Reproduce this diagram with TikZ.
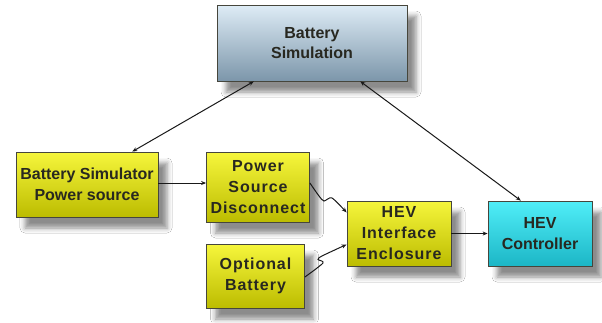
\documentclass[tikz,border=0pt]{standalone}
\usepackage{fontspec}
\setmainfont{Liberation Sans}
\newfontfamily\spacedfont[LetterSpace=6]{Liberation Sans}
\usetikzlibrary{arrows.meta,calc,shadows.blur}
\definecolor{ytop}{RGB}{246,246,60}
\definecolor{ybot}{RGB}{188,188,0}
\definecolor{btop}{RGB}{222,236,246}
\definecolor{bbot}{RGB}{124,150,170}
\definecolor{ctop}{RGB}{80,238,248}
\definecolor{cbot}{RGB}{28,182,198}
\definecolor{edge}{RGB}{70,70,60}
\definecolor{txt}{RGB}{40,40,32}
\begin{document}
\begin{tikzpicture}[x=1pt,y=-1pt,
  box/.style={draw=edge,line width=0.8pt,align=center,inner sep=0pt,
    text=txt,font=\fontsize{16}{20.5}\selectfont\bfseries,
    blur shadow={shadow xshift=9pt,shadow yshift=-11pt,shadow blur radius=5pt,shadow opacity=45}},
  ybox/.style={box,top color=ytop,bottom color=ybot},
  spaced/.style={font=\spacedfont\fontsize{16}{21}\selectfont\bfseries},
  link/.style={draw=black!90,line width=1pt},
  tip/.style={-{Stealth[length=5pt,width=4pt]}},
  tips/.style={{Stealth[length=5pt,width=4pt]}-{Stealth[length=5pt,width=4pt]}}]
\useasboundingbox[fill=white] (0,0) rectangle (602,322);
\node[box,top color=btop,bottom color=bbot,minimum width=190pt,minimum height=76pt] (BS) at (312,43) {Battery\\Simulation};
\node[ybox,minimum width=142pt,minimum height=65pt] (BSPS) at (87,184.5) {Battery Simulator\\Power source};
\node[ybox,spaced,minimum width=103pt,minimum height=70pt] (PSD) at (258,187) {Power\\Source\\Disconnect};
\node[ybox,spaced,minimum width=98pt,minimum height=64pt] (OB) at (255.5,276) {Optional\\Battery};
\node[ybox,spaced,minimum width=104pt,minimum height=65pt] (IE) at (399,233.5) {HEV\\Interface\\Enclosure};
\node[box,top color=ctop,bottom color=cbot,minimum width=104pt,minimum height=65pt] (HC) at (540,233.5) {HEV\\Controller};
\draw[link,tips] ($(BS.south west)!0.195!(BS.south east)$) -- ($(BSPS.north west)!0.817!(BSPS.north east)$);
\draw[link,tips] ($(BS.south west)!0.753!(BS.south east)$) -- ($(HC.north west)!0.317!(HC.north east)$);
\draw[link,tip] ([yshift=1.5pt]BSPS.east) -- ([yshift=1.5pt]BSPS.east -| PSD.west);
\draw[link,tip] (IE.east) -- (HC.west);
\draw[link,tip] plot[smooth,tension=0.45] coordinates {([yshift=4pt]PSD.east) (319,196) (324,201) (332,198) ([yshift=21pt]IE.west)};
\draw[link,tip] plot[smooth,tension=0.45] coordinates {([yshift=-1pt]OB.east) (323,263) (318,259.5) (322,256) ([yshift=-11pt]IE.west)};
\end{tikzpicture}
\end{document}
